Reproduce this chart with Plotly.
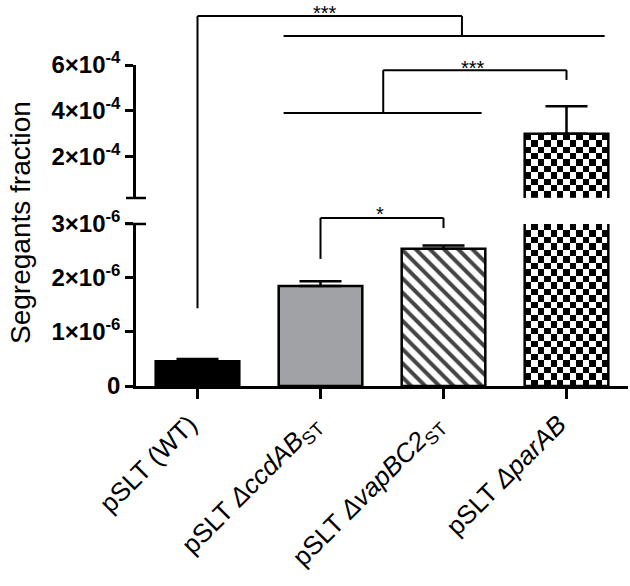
import numpy as np
import plotly.graph_objects as go

# data (mean + SEM)
strains = ["pSLT (WT)",
           "pSLT <i>ΔccdAB</i><sub>ST</sub>",
           "pSLT <i>ΔvapBC2</i><sub>ST</sub>",
           "pSLT <i>ΔparAB</i>"]
means = [0.46e-6, 1.85e-6, 2.54e-6, 3.0e-4]
sem = [0.04e-6, 0.09e-6, 0.06e-6, 1.2e-4]
fills = ["black", "#a1a2a6", "white", "rgba(0,0,0,0)"]
patterns = ["", "", "\\", ""]
checkered = [False, False, False, True]

lower_ticks = [0, 1e-6, 2e-6, 3e-6]
lower_text = ["0", "1×10<sup>-6</sup>", "2×10<sup>-6</sup>", "3×10<sup>-6</sup>"]
upper_ticks = [2e-4, 4e-4, 6e-4]
upper_text = ["2×10<sup>-4</sup>", "4×10<sup>-4</sup>", "6×10<sup>-4</sup>"]
lower_range = [0, 3e-6]
upper_range = [2e-5, 6e-4]

xpos = list(range(len(strains)))
BAR_W = 0.68
N_COLS = 13
LW = 2.5
FONT = "Liberation Sans, Arial, sans-serif"


def checker(xc, y0, y1, cell, yaxis):
    xe = np.linspace(xc - BAR_W / 2, xc + BAR_W / 2, N_COLS + 1)
    n_rows = max(1, int(round((y1 - y0) / cell)))
    ye = np.linspace(y0, y1, n_rows + 1)
    z = np.add.outer(np.arange(n_rows), np.arange(N_COLS)) % 2
    return go.Heatmap(x=xe, y=ye, z=z, zmin=0, zmax=1,
                      colorscale=[[0, "white"], [1, "black"]],
                      showscale=False, hoverinfo="skip", yaxis=yaxis)


fig = go.Figure()

# checkerboard fill for the broken bar (both segments)
for i in xpos:
    if checkered[i]:
        fig.add_trace(checker(xpos[i], 0, min(means[i], lower_range[1]), 1.2e-7, "y"))
        fig.add_trace(checker(xpos[i], upper_range[0], means[i], 2.8e-5, "y2"))

# lower segment: all bars
fig.add_trace(go.Bar(
    x=xpos, y=means, width=BAR_W, yaxis="y",
    marker=dict(color=fills, line=dict(color="black", width=LW),
                pattern=dict(shape=patterns, fgcolor="black", bgcolor="white",
                             fgopacity=1, size=10, solidity=0.4)),
    error_y=dict(type="data", symmetric=False, array=sem, arrayminus=[0] * len(sem),
                 width=21, thickness=LW, color="black"),
))

# upper segment: bars that go above the break
up = [i for i in xpos if means[i] > lower_range[1]]
fig.add_trace(go.Bar(
    x=[xpos[i] for i in up], y=[means[i] for i in up], width=BAR_W, yaxis="y2",
    marker=dict(color=[fills[i] for i in up], line=dict(color="black", width=LW)),
    error_y=dict(type="data", symmetric=False, array=[sem[i] for i in up],
                 arrayminus=[0] * len(up), width=21, thickness=LW, color="black"),
))

# plot area: 136..628 px horizontally, 10..386 px vertically
lower_dom = [0, 0.4309]
upper_dom = [0.5, 0.8537]

axis_common = dict(showgrid=False, zeroline=False, showline=True, linecolor="black",
                   linewidth=LW, ticks="outside", ticklen=8, tickwidth=LW,
                   tickcolor="black", tickmode="array", automargin=False,
                   tickfont=dict(family=FONT, size=24, color="black", weight="bold"))

fig.update_layout(
    width=630, height=586,
    margin=dict(l=136, r=2, t=10, b=200, autoexpand=False),
    plot_bgcolor="white", paper_bgcolor="white",
    showlegend=False,
    xaxis=dict(range=[-0.5, 3.5], tickmode="array", tickvals=xpos, ticktext=strains,
               tickangle=-45, showline=True, linecolor="black", linewidth=LW,
               ticks="outside", ticklen=10, tickwidth=LW, tickcolor="black",
               showgrid=False, zeroline=False, anchor="y", ticklabelshift=-8,
               tickfont=dict(family=FONT, size=26, color="black")),
    yaxis=dict(domain=lower_dom, range=lower_range, tickvals=lower_ticks,
               ticktext=lower_text, anchor="x", **axis_common),
    yaxis2=dict(domain=upper_dom, range=upper_range, tickvals=upper_ticks,
                ticktext=upper_text, anchor="x", **axis_common),
)

# break caps on the y axis
cap = 10 / 492
for yy in (lower_dom[1], upper_dom[0]):
    fig.add_shape(type="line", xref="paper", yref="paper", x0=-cap, x1=cap,
                  y0=yy, y1=yy, line=dict(color="black", width=LW))

line = dict(color="black", width=2)


def seg(x0, y0, x1, y1):
    fig.add_shape(type="line", xref="x", yref="paper", x0=x0, y0=y0, x1=x1, y1=y1, line=line)


# WT vs all mutants
seg(0, 0.207, 0, 0.984)
seg(0, 0.984, 2.15, 0.984)
seg(2.15, 0.984, 2.15, 0.931)
seg(0.70, 0.931, 3.31, 0.931)
# ccdAB/vapBC2 vs parAB
seg(0.70, 0.726, 2.31, 0.726)
seg(1.51, 0.726, 1.51, 0.840)
seg(1.51, 0.840, 3.0, 0.840)
seg(3.0, 0.840, 3.0, 0.814)
# ccdAB vs vapBC2
seg(1.0, 0.338, 1.0, 0.447)
seg(1.0, 0.447, 2.0, 0.447)
seg(2.0, 0.447, 2.0, 0.420)

for xs, ys, txt in [(1.04, 1.0266, "***"), (2.24, 0.880, "***"), (1.48, 0.492, "*")]:
    fig.add_annotation(x=xs, y=ys, xref="x", yref="paper", text=txt, showarrow=False,
                       xanchor="center", yanchor="top",
                       font=dict(family=FONT, size=20, color="black"))

fig.add_annotation(x=-0.236, y=0.436, xref="paper", yref="paper",
                   text="Segregants fraction", textangle=-90, showarrow=False,
                   xanchor="center", yanchor="middle",
                   font=dict(family=FONT, size=28, color="black"))

fig.write_html("out.html", config={"displayModeBar": False},
               post_script="document.body.style.margin='0';")
